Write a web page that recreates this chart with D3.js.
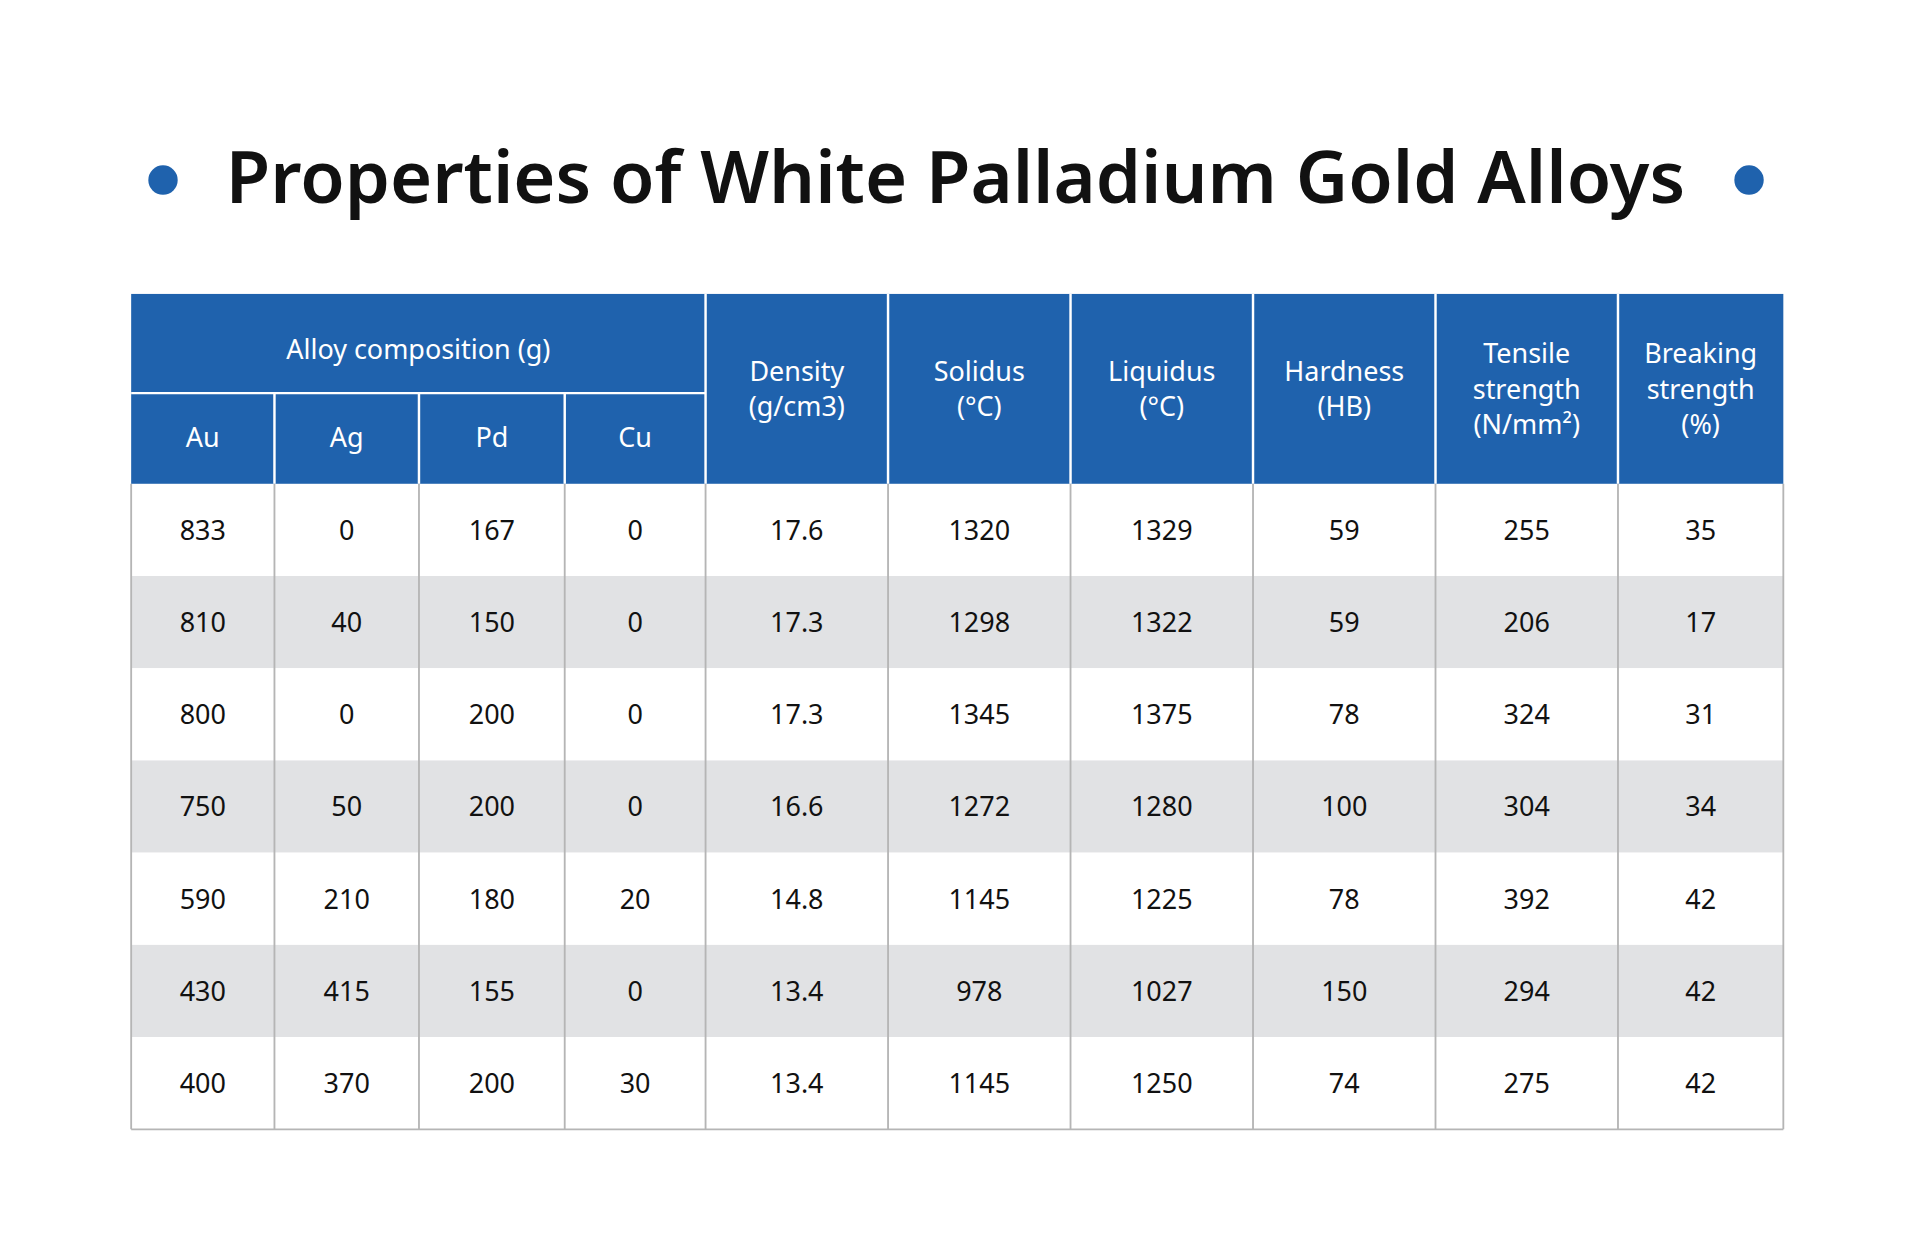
<!DOCTYPE html>
<html><head><meta charset="utf-8">
<script src="https://cdn.jsdelivr.net/npm/d3@7"></script>
<style>body{margin:0;background:#fff}</style>
</head><body>
<div id="chart"></div>
<script>
// Table data
const title = "Properties of White Palladium Gold Alloys";
const subColumns = ["Au", "Ag", "Pd", "Cu"];
const propColumns = [["Density", "(g/cm3)"], ["Solidus", "(°C)"], ["Liquidus", "(°C)"],
    ["Hardness", "(HB)"], ["Tensile", "strength", "(N/mm²)"], ["Breaking", "strength", "(%)"]];
const rows = [
    ["833", "0", "167", "0", "17.6", "1320", "1329", "59", "255", "35"],
    ["810", "40", "150", "0", "17.3", "1298", "1322", "59", "206", "17"],
    ["800", "0", "200", "0", "17.3", "1345", "1375", "78", "324", "31"],
    ["750", "50", "200", "0", "16.6", "1272", "1280", "100", "304", "34"],
    ["590", "210", "180", "20", "14.8", "1145", "1225", "78", "392", "42"],
    ["430", "415", "155", "0", "13.4", "978", "1027", "150", "294", "42"],
    ["400", "370", "200", "30", "13.4", "1145", "1250", "74", "275", "42"]
];
const colEdges = [107, 224, 342, 461, 576, 725, 874, 1023, 1172, 1321, 1456];

const blue = "#1f62ad";
const font = "'Noto Sans', 'Open Sans', sans-serif";

const svg = d3.select("#chart").append("svg")
    .attr("width", 1920).attr("height", 1248)
    .attr("viewBox", "0 0 1567.5 1019");

// title
svg.append("text").attr("x", 780).attr("y", 166).attr("text-anchor", "middle")
    .attr("font-family", font).attr("font-size", 59).attr("font-weight", 600)
    .attr("fill", "#111").text(title);
svg.append("circle").attr("cx", 133).attr("cy", 147).attr("r", 12).attr("fill", blue);
svg.append("circle").attr("cx", 1428).attr("cy", 147).attr("r", 12).attr("fill", blue);

const headTop = 240, headMid = 321, headBot = 395, rowH = 75.3;
const y = d3.scaleBand().domain(d3.range(rows.length))
    .range([headBot, headBot + rowH * rows.length]);

// body rows
svg.selectAll("rect.row").data(rows).enter().append("rect")
    .attr("x", colEdges[0]).attr("width", colEdges[10] - colEdges[0])
    .attr("y", (d, i) => y(i)).attr("height", y.bandwidth())
    .attr("fill", (d, i) => i % 2 ? "#e1e2e4" : "#fff");

// vertical grid lines in body
svg.selectAll("line.v").data(colEdges).enter().append("line")
    .attr("x1", d => d).attr("x2", d => d)
    .attr("y1", headBot).attr("y2", y.range()[1])
    .attr("stroke", "#b5b5b5").attr("stroke-width", 1.5);
svg.append("line").attr("x1", colEdges[0]).attr("x2", colEdges[10])
    .attr("y1", y.range()[1]).attr("y2", y.range()[1])
    .attr("stroke", "#b5b5b5").attr("stroke-width", 1.5);

// cell text
rows.forEach((r, i) => {
    r.forEach((v, j) => {
        svg.append("text")
            .attr("x", (colEdges[j] + colEdges[j + 1]) / 2)
            .attr("y", y(i) + y.bandwidth() / 2 + 8)
            .attr("text-anchor", "middle").attr("font-family", font)
            .attr("font-size", 22).attr("fill", "#111").text(v);
    });
});

// header
svg.append("rect").attr("x", colEdges[0]).attr("y", headTop)
    .attr("width", colEdges[10] - colEdges[0]).attr("height", headBot - headTop).attr("fill", blue);
colEdges.slice(4, 10).forEach(x => svg.append("line").attr("x1", x).attr("x2", x)
    .attr("y1", headTop).attr("y2", headBot).attr("stroke", "#fff").attr("stroke-width", 2));
colEdges.slice(1, 4).forEach(x => svg.append("line").attr("x1", x).attr("x2", x)
    .attr("y1", headMid).attr("y2", headBot).attr("stroke", "#fff").attr("stroke-width", 2));
svg.append("line").attr("x1", colEdges[0]).attr("x2", colEdges[4])
    .attr("y1", headMid).attr("y2", headMid).attr("stroke", "#fff").attr("stroke-width", 2);

const hText = (x, yy, t) => svg.append("text").attr("x", x).attr("y", yy)
    .attr("text-anchor", "middle").attr("font-family", font).attr("font-size", 22)
    .attr("fill", "#fff").text(t);
hText((colEdges[0] + colEdges[4]) / 2, 293, "Alloy composition (g)");
subColumns.forEach((s, j) => hText((colEdges[j] + colEdges[j + 1]) / 2, 365, s));
propColumns.forEach((lines, j) => {
    const cx = (colEdges[j + 4] + colEdges[j + 5]) / 2;
    const start = (headTop + headBot) / 2 - (lines.length - 1) * 29 / 2 + 8;
    lines.forEach((l, k) => hText(cx, start + k * 29, l));
});
</script>
</body></html>
